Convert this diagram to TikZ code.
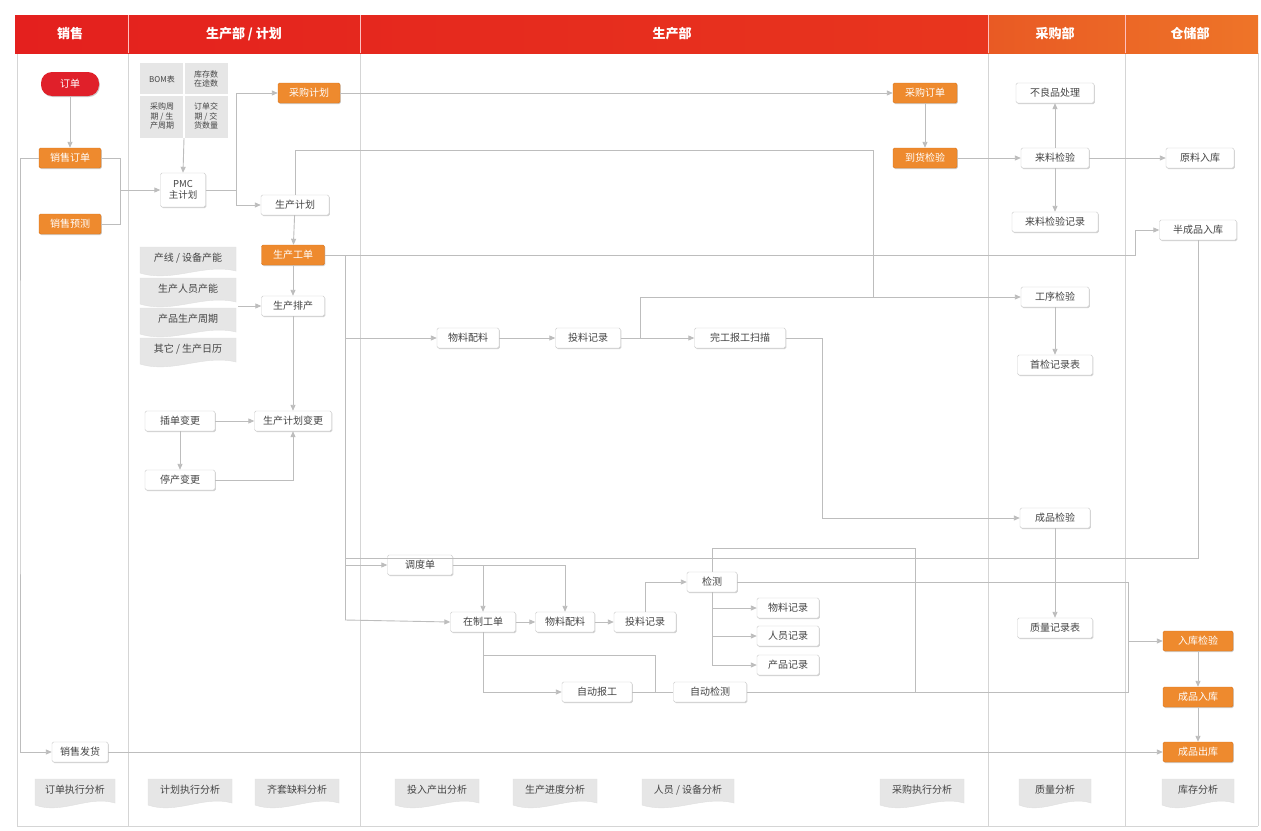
\documentclass[tikz,border=0pt]{standalone}
\usepackage{fontspec}
\setmainfont{Noto Sans CJK SC}
\usetikzlibrary{arrows.meta,calc,shadows}
\definecolor{lanegray}{HTML}{D5D5D5}
\definecolor{linegray}{HTML}{BDBDBD}
\definecolor{txt}{HTML}{444444}
\definecolor{orangef}{HTML}{EE8A2E}
\definecolor{oranged}{HTML}{D8741C}
\definecolor{redpill}{HTML}{E0202A}
\definecolor{hdrred}{HTML}{E4201E}
\definecolor{hdrmid}{HTML}{E8361E}
\definecolor{hdrmidb}{HTML}{E95A24}
\definecolor{hdrorange}{HTML}{EE7428}
\definecolor{docfill}{HTML}{E6E6E6}
\newcommand\docn[5]{%
  \fill[docfill, draw=black!12] ({#2-#4/2},{#3-12}) -- ({#2+#4/2},{#3-12}) -- ({#2+#4/2},{#3+12})
    .. controls ({#2+#4/6},{#3+4}) and ({#2-#4/6},{#3+24}) .. ({#2-#4/2},{#3+14}) -- cycle;
  \node[doctext] (#1) at (#2,{#3-1}) {#5};}
\begin{document}
\begin{tikzpicture}[x=1pt,y=-1pt,
  lane/.style={draw=lanegray, line width=0.8pt},
  ln/.style={draw=linegray, line width=0.9pt},
  arr/.style={ln, -{Triangle[length=6pt,width=5pt]}},
  box/.style={draw=black!20, fill=white, rounded corners=1.5pt, text=txt,
    font=\fontsize{10}{12}\selectfont, minimum width=64pt, minimum height=20pt,
    inner xsep=3pt, inner ysep=2pt, align=center,
    drop shadow={shadow xshift=0.8pt, shadow yshift=-1pt, fill=black, opacity=0.18}},
  obox/.style={box, draw=oranged, fill=orangef, text=white},
  pill/.style={fill=redpill, text=white, rounded corners=11pt, minimum width=58pt,
    minimum height=24pt, font=\fontsize{10}{12}\selectfont,
    drop shadow={shadow xshift=0.8pt, shadow yshift=-1pt, fill=black, opacity=0.2}},
  doctext/.style={font=\fontsize{10}{12}\selectfont, text=txt, inner sep=1pt},
  tbltext/.style={font=\fontsize{8}{9.5}\selectfont, text=txt, align=center, inner sep=1pt},
  hdr/.style={font=\fontsize{13}{15}\selectfont\bfseries, text=white}
]
\fill[white] (0,0) rectangle (1261,830);
\useasboundingbox (0,0) rectangle (1261,830);

% lanes
\foreach \x in {17,128,360,988,1125,1258} \draw[lane] (\x,53) -- (\x,826);
\draw[lane] (17,826) -- (1258,826);

% header
\shade[left color=hdrred, right color=hdrmid] (15,15) rectangle (988,53);
\shade[left color=hdrmidb, right color=hdrorange] (988,15) rectangle (1258,53);
\foreach \x in {128,360,988,1125} \draw[white!75!red, line width=0.6pt] (\x,15) -- (\x,53);
\node[hdr] (h1) at (70,34) {销售};
\node[hdr] (h2) at (244,34) {生产部 / 计划};
\node[hdr] (h3) at (672,34) {生产部};
\node[hdr] (h4) at (1055,34) {采购部};
\node[hdr] (h5) at (1190,34) {仓储部};

% junction coordinates
\coordinate (j1) at (120,190);
\coordinate (j2) at (236,190);
\coordinate (sdE) at (238,306);
\coordinate (r0) at (345,255);
\coordinate (r1) at (345,338);
\coordinate (r2) at (345,565);
\coordinate (r3) at (345,620);
\coordinate (r4) at (345,558);
\coordinate (j4) at (640,338);
\coordinate (j5) at (873,150);
\coordinate (j6) at (873,297);
\coordinate (j7) at (822,338);
\coordinate (j9) at (1128,641);
\coordinate (j10) at (483,655);
\coordinate (j11) at (655,655);
\coordinate (j12) at (655,692);
\coordinate (j13) at (915,548);
\coordinate (j14) at (915,692);
\coordinate (j15) at (1135,255);
\coordinate (j16) at (20,400);

% lane 1
\node[pill] (dingdan) at (70,84) {订单};
\node[obox, minimum width=62pt] (xsdd) at (70,158) {销售订单};
\node[obox, minimum width=62pt] (xsyc) at (70,224) {销售预测};
\node[box, minimum width=56pt] (xsfh) at (80,752) {销售发货};

% lane 2
\node[fill=docfill, minimum width=88pt, minimum height=75pt, inner sep=0pt] (tbl) at (184,100.5) {};
\draw[white, line width=1.2pt] (184,63) -- (184,138);
\draw[white, line width=1.2pt] (140,95) -- (228,95);
\node[tbltext] (t1) at (162,79) {BOM表};
\node[tbltext] (t2) at (206,79) {库存数\\在途数};
\node[tbltext] (t3) at (162,116) {采购周\\期 / 生\\产周期};
\node[tbltext] (t4) at (206,116) {订单交\\期 / 交\\货数量};
\node[box, minimum width=45pt, minimum height=34pt, font=\fontsize{9.5}{11}\selectfont] (pmc) at (183,190) {PMC\\主计划};
\node[obox, minimum width=62pt] (cgjh) at (309,93) {采购计划};
\node[box, minimum width=68pt] (scjh) at (295,205) {生产计划};
\node[obox, minimum width=63pt] (scgd) at (293,255) {生产工单};
\node[box, minimum width=63pt] (scpc) at (293,306) {生产排产};
\docn{sd1}{188}{259}{96}{产线 / 设备产能}
\docn{sd2}{188}{290}{96}{生产人员产能}
\docn{sd3}{188}{320}{96}{产品生产周期}
\docn{sd4}{188}{350}{96}{其它 / 生产日历}
\node[box, minimum width=77pt] (jhbg) at (293,421) {生产计划变更};
\node[box, minimum width=70pt] (cdbg) at (180,421) {插单变更};
\node[box, minimum width=70pt] (tcbg) at (180,480) {停产变更};

% lane 3
\node[box, minimum width=62pt] (wlpl) at (468,338) {物料配料};
\node[box, minimum width=65pt] (tljl) at (588,338) {投料记录};
\node[box, minimum width=91pt] (wgbg) at (740,338) {完工报工扫描};
\node[box, minimum width=65pt] (ddd) at (420,565) {调度单};
\node[box, minimum width=65pt] (zzgd) at (483,622) {在制工单};
\node[box, minimum width=59pt] (wlpl2) at (565,622) {物料配料};
\node[box, minimum width=62pt] (tljl2) at (645,622) {投料记录};
\node[box, minimum width=50pt] (jc) at (712,582) {检测};
\node[box, minimum width=62pt] (wljl) at (788,608) {物料记录};
\node[box, minimum width=62pt] (ryjl) at (788,636) {人员记录};
\node[box, minimum width=62pt] (cpjl) at (788,665) {产品记录};
\node[box, minimum width=70pt] (zdbg) at (597,692) {自动报工};
\node[box, minimum width=73pt] (zdjc) at (710,692) {自动检测};
\node[obox, minimum width=64pt] (cgdd) at (925,93) {采购订单};
\node[obox, minimum width=64pt] (dhjy) at (925,158) {到货检验};

% lane 4
\node[box, minimum width=78pt] (blp) at (1055,93) {不良品处理};
\node[box, minimum width=68pt] (lljy) at (1055,158) {来料检验};
\node[box, minimum width=86pt] (lljl) at (1055,222) {来料检验记录};
\node[box, minimum width=68pt] (gxjy) at (1055,297) {工序检验};
\node[box, minimum width=75pt] (sjjl) at (1055,365) {首检记录表};
\node[box, minimum width=70pt] (cpjy) at (1055,518) {成品检验};
\node[box, minimum width=75pt] (zljl) at (1055,628) {质量记录表};

% lane 5
\node[box, minimum width=68pt] (ylrk) at (1200,158) {原料入库};
\node[box, minimum width=77pt] (bcprk) at (1198,230) {半成品入库};
\node[obox, minimum width=70pt] (rkjy) at (1198,641) {入库检验};
\node[obox, minimum width=70pt] (cprk) at (1198,697) {成品入库};
\node[obox, minimum width=70pt] (cpck) at (1198,752) {成品出库};

% bottom documents
\docn{d1}{75}{791}{80}{订单执行分析}
\docn{d2}{190}{791}{84}{计划执行分析}
\docn{d3}{297}{791}{84}{齐套缺料分析}
\docn{d4}{437}{791}{84}{投入产出分析}
\docn{d5}{555}{791}{84}{生产进度分析}
\docn{d6}{688}{791}{92}{人员 / 设备分析}
\docn{d7}{922}{791}{84}{采购执行分析}
\docn{d8}{1055}{791}{72}{质量分析}
\docn{d9}{1198}{791}{72}{库存分析}

% connectors
\draw[arr] (dingdan) -- (xsdd);
\draw[ln] (xsdd.east) -| (j1);
\draw[ln] (xsyc.east) -| (j1);
\draw[arr] (j1) -- (pmc.west);
\draw[arr] (tbl.south) -- (pmc.north);
\draw[ln] (pmc.east) -- (j2);
\draw[arr] (j2) |- (cgjh.west);
\draw[arr] (j2) |- (scjh.west);
\draw[arr] (cgjh) -- (cgdd);
\draw[arr] (cgdd) -- (dhjy);
\draw[arr] (dhjy) -- (lljy);
\draw[arr] (lljy) -- (blp);
\draw[arr] (lljy) -- (lljl);
\draw[arr] (lljy) -- (ylrk);
\draw[arr] (scjh) -- (scgd);
\draw[ln] (scjh.north) |- (j5) -- (j6);
\draw[arr] (scgd) -- (scpc);
\draw[arr] (sdE) -- (scpc.west);
\draw[arr] (scpc) -- (jhbg);
\draw[arr] (cdbg) -- (jhbg);
\draw[arr] (cdbg) -- (tcbg);
\draw[arr] (tcbg.east) -| (jhbg.south);
\draw[ln] (scgd.east) -- (r0) -- (r3);
\draw[arr] (r0) -- (j15) |- (bcprk.west);
\draw[ln] (r4) -| (bcprk.south);
\draw[arr] (r1) -- (wlpl);
\draw[arr] (wlpl) -- (tljl);
\draw[arr] (tljl) -- (wgbg);
\draw[arr] (j4) |- (gxjy.west);
\draw[arr] (gxjy) -- (sjjl);
\draw[arr] (wgbg.east) -- (j7) |- (cpjy.west);
\draw[arr] (cpjy) -- (zljl);
\draw[arr] (r2) -- (ddd);
\draw[arr] (ddd.east) -| (zzgd.north);
\draw[arr] (ddd.east) -| (wlpl2.north);
\draw[arr] (r3) -- (zzgd.west);
\draw[arr] (zzgd) -- (wlpl2);
\draw[arr] (wlpl2) -- (tljl2);
\draw[arr] (tljl2.north) |- (jc.west);
\draw[arr] (jc.south) |- (wljl.west);
\draw[arr] (jc.south) |- (ryjl.west);
\draw[arr] (jc.south) |- (cpjl.west);
\draw[ln] (jc.north) |- (j13) -- (j14);
\draw[ln] (jc.east) -| (j9);
\draw[arr] (j9) -- (rkjy.west);
\draw[arr] (zzgd.south) |- (zdbg.west);
\draw[ln] (j10) -- (j11) -- (j12);
\draw[ln] (zdbg) -- (zdjc);
\draw[ln] (zdjc.east) -| (j9);
\draw[arr] (rkjy) -- (cprk);
\draw[arr] (cprk) -- (cpck);
\draw[arr] (xsdd.west) -| (j16) |- (xsfh.west);
\draw[arr] (xsfh.east) -- (cpck.west);
\end{tikzpicture}
\end{document}
